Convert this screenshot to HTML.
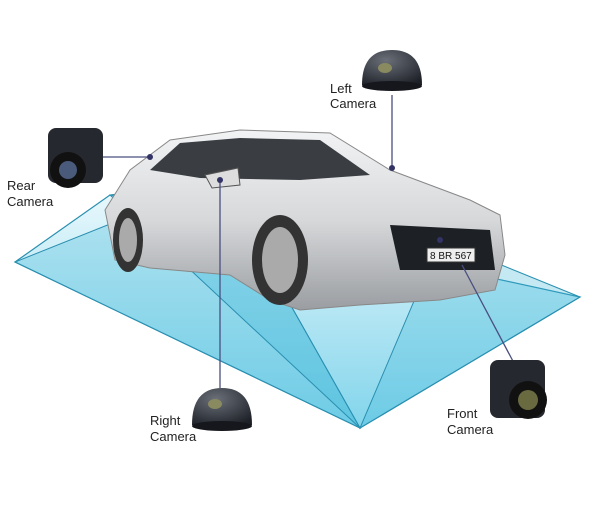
<!DOCTYPE html>
<html><head><meta charset="utf-8"><style>
html,body{margin:0;padding:0;background:#fff;width:600px;height:523px;overflow:hidden}
.t{font-family:"Liberation Sans",sans-serif;font-size:13px;fill:#222}
</style></head><body>
<svg width="600" height="523" viewBox="0 0 600 523" xmlns="http://www.w3.org/2000/svg">
<defs>
<linearGradient id="fl" x1="0" y1="0" x2="0" y2="1">
<stop offset="0" stop-color="#e3f6fb"/><stop offset="1" stop-color="#6ccde8"/></linearGradient>
<linearGradient id="car" x1="0" y1="0" x2="0" y2="1">
<stop offset="0" stop-color="#f2f3f4"/><stop offset="0.5" stop-color="#d6d8da"/><stop offset="1" stop-color="#9a9da1"/></linearGradient>
<radialGradient id="dome" cx="0.4" cy="0.3" r="0.8"><stop offset="0" stop-color="#6a6f78"/><stop offset="1" stop-color="#1d2027"/></radialGradient>
</defs>
<polygon points="15,262 110,195 580,297 360,428" fill="url(#fl)" opacity="0.85"/>
<polygon points="15,262 110,195 580,297 360,428" fill="none" stroke="#2a8fb0" stroke-width="1.2"/>
<g stroke="#2a8fb0" stroke-width="1" fill="#3bb5d8" fill-opacity="0.3">
<polygon points="220,180 15,262 360,428"/>
<polygon points="440,240 580,297 360,428"/>
<polygon points="220,180 110,195 360,428"/>
</g>
<path d="M105,210 L130,170 L170,140 L240,130 L330,133 L390,170 L470,200 L500,215 L505,255 L495,290 L440,300 L360,305 L300,310 L270,300 L230,275 L150,268 L115,260 Z" fill="url(#car)" stroke="#888" stroke-width="1"/>
<path d="M150,170 L180,143 L240,138 L320,140 L370,175 L300,180 L200,178 Z" fill="#3a3d42"/>
<path d="M390,225 L490,230 L495,270 L400,270 Z" fill="#1d2025"/>
<rect x="427" y="248" width="48" height="14" fill="#eee" stroke="#333"/>
<text x="430" y="259" font-family="Liberation Sans" font-size="10" fill="#111">8 BR 567</text>
<ellipse cx="280" cy="260" rx="28" ry="45" fill="#333"/><ellipse cx="280" cy="260" rx="18" ry="33" fill="#aaa"/>
<ellipse cx="128" cy="240" rx="15" ry="32" fill="#333"/><ellipse cx="128" cy="240" rx="9" ry="22" fill="#aaa"/>
<path d="M205,175 L238,168 L240,185 L212,188 Z" fill="#ddd" stroke="#555"/>
<g stroke="#4a4f80" stroke-width="1.3">
<line x1="392" y1="95" x2="392" y2="168"/>
<line x1="103" y1="157" x2="150" y2="157"/>
<line x1="220" y1="180" x2="220" y2="388"/>
<line x1="462" y1="265" x2="515" y2="365"/>
</g>
<g fill="#333366"><circle cx="392" cy="168" r="3"/><circle cx="150" cy="157" r="3"/><circle cx="220" cy="180" r="3"/><circle cx="440" cy="240" r="3"/></g>
<path d="M362,85 Q362,50 392,50 Q422,50 422,85 Z" fill="url(#dome)"/><ellipse cx="392" cy="86" rx="30" ry="5" fill="#15171c"/><ellipse cx="385" cy="68" rx="7" ry="5" fill="#8a8a60"/>
<path d="M192,425 Q192,388 222,388 Q252,388 252,425 Z" fill="url(#dome)"/><ellipse cx="222" cy="426" rx="30" ry="5" fill="#15171c"/><ellipse cx="215" cy="404" rx="7" ry="5" fill="#8a8a60"/>
<rect x="48" y="128" width="55" height="55" rx="8" fill="#25282e"/><circle cx="68" cy="170" r="18" fill="#111"/><circle cx="68" cy="170" r="9" fill="#4a5a7a"/>
<rect x="490" y="360" width="55" height="58" rx="8" fill="#25282e"/><circle cx="528" cy="400" r="19" fill="#111"/><circle cx="528" cy="400" r="10" fill="#6a6a40"/>
<text class="t" x="330" y="93">Left</text><text class="t" x="330" y="108">Camera</text>
<text class="t" x="7" y="190">Rear</text><text class="t" x="7" y="206">Camera</text>
<text class="t" x="150" y="425">Right</text><text class="t" x="150" y="441">Camera</text>
<text class="t" x="447" y="418">Front</text><text class="t" x="447" y="434">Camera</text>
</svg>
</body></html>
